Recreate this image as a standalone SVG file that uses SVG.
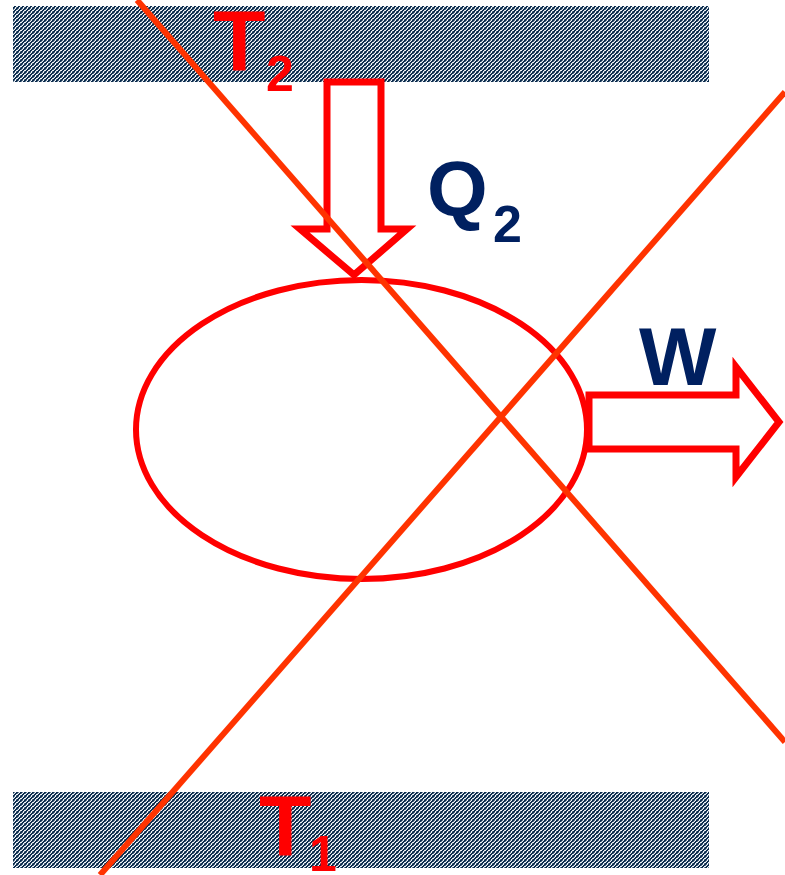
<svg xmlns="http://www.w3.org/2000/svg" width="785" height="875" viewBox="0 0 785 875">
<defs>
<pattern id="hatch" patternUnits="userSpaceOnUse" width="4" height="4">
<rect width="4" height="4" fill="#eef3f7"/>
<g fill="#0c2c4d" shape-rendering="crispEdges">
<rect x="0" y="0" width="2" height="1"/>
<rect x="3" y="1" width="1" height="1"/>
<rect x="0" y="1" width="1" height="1"/>
<rect x="2" y="2" width="2" height="1"/>
<rect x="1" y="3" width="2" height="1"/>
</g>
<g fill="#6f8499" shape-rendering="crispEdges">
<rect x="2" y="0" width="1" height="1"/>
<rect x="1" y="1" width="1" height="1"/>
<rect x="0" y="3" width="1" height="1"/>
</g>
</pattern>
</defs>
<style>
.band{fill:url(#hatch)}
.tlab{font-family:"Liberation Sans",Arial,sans-serif;font-weight:bold;fill:#ff0000}
.blab{font-family:"Liberation Sans",Arial,sans-serif;font-weight:bold;fill:#002060}
.shape{fill:#ffffff;stroke:#ff0000;stroke-width:7;stroke-linejoin:miter}
.cross{stroke:#ff3300;stroke-width:6;fill:none}
</style>
<g id="reservoir-hot">
<rect class="band" x="13" y="6" width="696" height="76"/>
<text class="tlab" x="213" y="70" font-size="86">T</text>
<text class="tlab" x="266" y="91" font-size="50">2</text>
</g>
<g id="reservoir-cold">
<rect class="band" x="13" y="792" width="696" height="76"/>
<text class="tlab" x="259" y="855" font-size="86">T</text>
<text class="tlab" x="309" y="871" font-size="50">1</text>
</g>
<g id="heat-in">
<polygon class="shape" points="327,82 381,82 381,229 407,229 354,275 300,229 327,229"/>
<text class="blab" x="427" y="216" font-size="78">Q</text>
<text class="blab" x="493" y="242" font-size="52">2</text>
</g>
<g id="work-out">
<polygon class="shape" points="589,395 736,395 736,367 779,422 736,477 736,449 589,449"/>
<text class="blab" x="639" y="385" font-size="82">W</text>
</g>
<g id="engine">
<ellipse cx="361.5" cy="429.5" rx="225.5" ry="149.5" fill="none" stroke="#ff0000" stroke-width="6"/>
</g>
<g id="connectors">
<line class="cross" x1="137" y1="0" x2="785" y2="742"/>
<line class="cross" x1="100" y1="875" x2="785" y2="92"/>
</g>
</svg>
